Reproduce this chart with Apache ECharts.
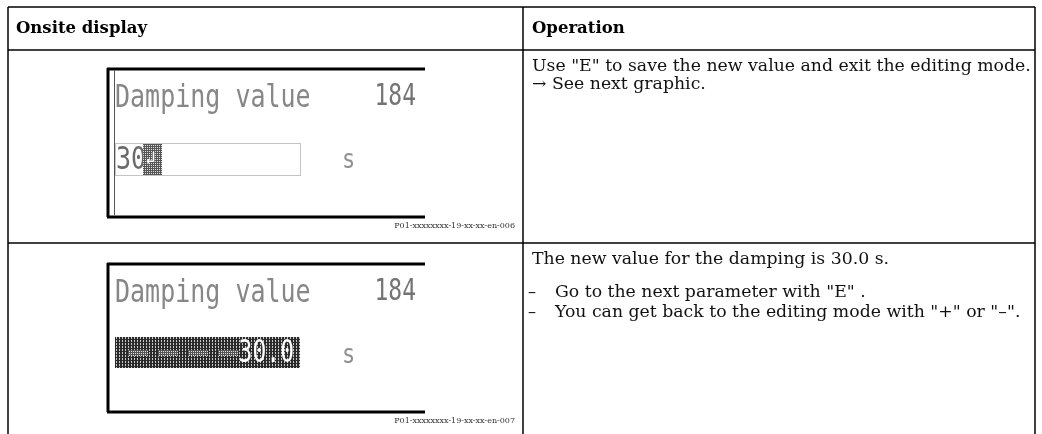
<!DOCTYPE html>
<html><head><meta charset="utf-8">
<script src="https://cdn.jsdelivr.net/npm/echarts@6/dist/echarts.min.js"></script>
<style>html,body{margin:0;padding:0;background:#fff}#c{width:1042px;height:434px}</style>
</head><body><div id="c"></div>
<script>
const headers = ['Onsite display', 'Operation'];
const row1Lines = ['Use "E" to save the new value and exit the editing mode.', '\u2192 See next graphic.'];
const row2Intro = ['The new value for the damping is 30.0 s.'];
const row2Bullets = ['Go to the next parameter with "E" .', 'You can get back to the editing mode with "+" or "\u2013".'];
const displayTitle = ['Damping value', 'Damping value'];
const displayCode = ['184', '184'];
const displayValue = ['30', '30.0'];
const displayUnit = ['s', 's'];
const figureIds = ['P01-xxxxxxxx-19-xx-xx-en-006', 'P01-xxxxxxxx-19-xx-xx-en-007'];

function makePattern(w, h, draw) {
  const cv = document.createElement('canvas'); cv.width = w; cv.height = h;
  const ctx = cv.getContext('2d'); draw(ctx);
  return {image: cv, repeat: 'repeat'};
}
const darkHatch = makePattern(3, 3, ctx => {
  ctx.fillStyle = '#c8c8c8'; ctx.fillRect(0,0,3,3);
  ctx.fillStyle = '#2a2a2a'; ctx.fillRect(0,0,2,3); ctx.fillRect(0,0,3,1);
});
const midHatch = makePattern(2, 2, ctx => {
  ctx.fillStyle = '#e0e0e0'; ctx.fillRect(0,0,2,2);
  ctx.fillStyle = '#555'; ctx.fillRect(0,0,1,2); ctx.fillRect(0,0,2,1);
});

const serif = '"DejaVu Serif", serif';
const lcd = '"DejaVu Sans Mono", monospace';
const G = [];
const L = (x1,y1,x2,y2,w,c) => G.push({type:'line', shape:{x1,y1,x2,y2}, style:{stroke:c||'#000', lineWidth:w||1.5}, silent:true});
const T = (x,y,text,o) => G.push(Object.assign({type:'text', x, y, style:Object.assign({text, fill:'#111', font:'16px '+serif, verticalAlign:'top'}, o && o.style)}, o && o.el));

// table grid
L(8,7,1035,7); L(8,50,1035,50); L(8,243,1035,243);
L(8,7,8,434); L(523,7,523,434); L(1035,7,1035,434);

// headers
T(16,20,headers[0],{style:{font:'bold 16.5px '+serif, fill:'#000'}});
T(532,20,headers[1],{style:{font:'bold 16.5px '+serif, fill:'#000'}});

// operation texts
const sx = {scaleX:1.08};
row1Lines.forEach((s,i)=>T(532,59+18*i,s,{el:sx}));
T(532,252,row2Intro[0],{el:sx});
row2Bullets.forEach((s,i)=>{ T(528,285+20*i,'\u2013'); T(555,285+20*i,s,{el:sx}); });

// displays
const tops = [68, 263];
tops.forEach((t,k)=>{
  const b = t + 149;
  L(108,t,108,b,3); L(107,t+1,425,t+1,3); L(107,b,425,b,3);
  if (k===0) L(114.5,t+2,114.5,b-2,1,'#555');
  T(115,t+15,displayTitle[k],{style:{font:'25px '+lcd, fill:'#878787'}, el:{scaleY:1.25}});
  T(416,t+14.5,displayCode[k],{style:{font:'23px '+lcd, fill:'#747474', textAlign:'right'}, el:{scaleY:1.3}});
  T(342,t+80,displayUnit[k],{style:{font:'22px '+lcd, fill:'#8f8f8f'}, el:{scaleY:1.2}});
  T(515,t+154,figureIds[k],{style:{font:'8px '+serif, fill:'#333', textAlign:'right'}});
});
// display 1 input field
G.push({type:'rect', shape:{x:115.5,y:143.5,width:185,height:32}, style:{fill:'#fff', stroke:'#888', lineWidth:1, lineDash:[1,1]}});
T(116,144,displayValue[0],{style:{font:'25px '+lcd, fill:'#6a6a6a'}, el:{scaleY:1.3}});
G.push({type:'rect', shape:{x:143,y:144,width:19,height:31}, style:{fill:midHatch}});
T(145,150,'\u21b2',{style:{font:'18px '+lcd, fill:'#fff'}});
// display 2 selected bar
G.push({type:'rect', shape:{x:115,y:337,width:185,height:31}, style:{fill:darkHatch}});
[128,158,188,218].forEach(x=>G.push({type:'rect', shape:{x:x,y:350,width:20,height:6}, style:{fill:midHatch}}));
T(294,338,displayValue[1],{style:{font:'23px '+lcd, fill:'#fff', textAlign:'right'}, el:{scaleY:1.35}});

const chart = echarts.init(document.getElementById('c'), null, {renderer:'canvas'});
chart.setOption({animation:false, graphic:{elements:G}});
</script></body></html>
